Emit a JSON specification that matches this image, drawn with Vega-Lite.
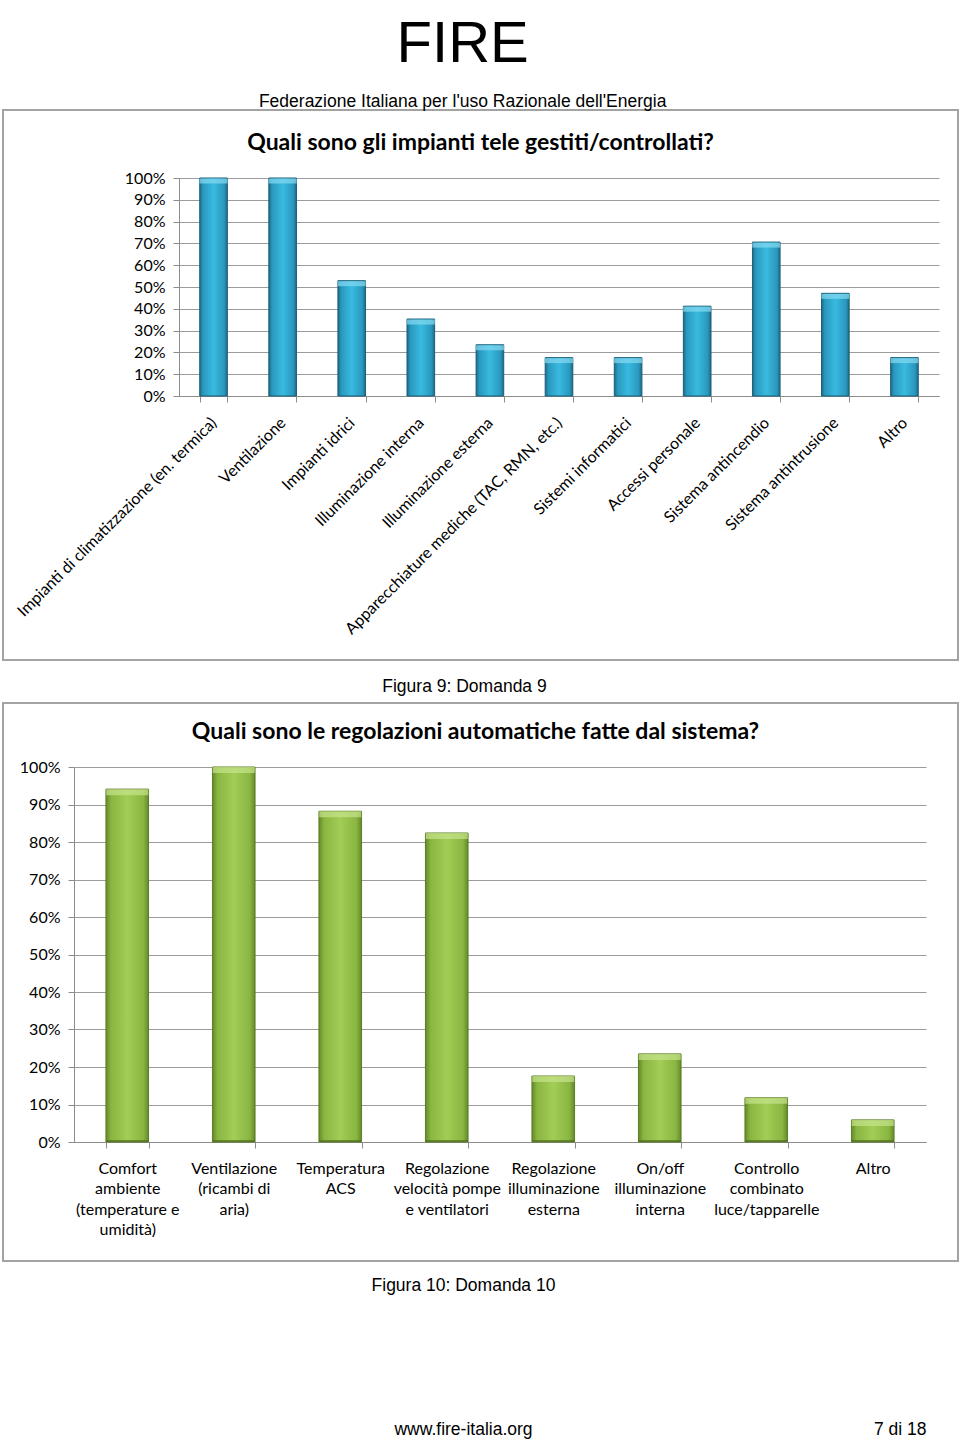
{
  "$schema": "https://vega.github.io/schema/vega-lite/v6.json",
  "background": "white",
  "padding": {"left": -4, "top": 15, "right": 2, "bottom": 0},
  "title": {
    "text": "FIRE",
    "subtitle": "Federazione Italiana per l'uso Razionale dell'Energia",
    "anchor": "middle",
    "font": "Liberation Sans",
    "fontSize": 58,
    "fontWeight": "normal",
    "color": "black",
    "subtitleFont": "Liberation Sans",
    "subtitleFontSize": 17.5,
    "subtitleColor": "black",
    "subtitlePadding": 19,
    "offset": -1,
    "dx": -15
  },
  "spacing": 6,
  "config": {
    "view": {"stroke": "#a3a3a3", "strokeWidth": 2},
    "axis": {
      "domainColor": "#8c8c8c",
      "tickColor": "#8c8c8c",
      "gridColor": "#9c9c9c",
      "gridWidth": 1.2,
      "labelColor": "black",
      "titleColor": "black"
    }
  },
  "vconcat": [
    {
      "width": 955,
      "height": 550,
      "data": {
        "values": [
          {"cat": "Impianti di climatizzazione (en. termica)", "v": 100},
          {"cat": "Ventilazione", "v": 100},
          {"cat": "Impianti idrici", "v": 52.9},
          {"cat": "Illuminazione interna", "v": 35.3},
          {"cat": "Illuminazione esterna", "v": 23.5},
          {"cat": "Apparecchiature mediche (TAC, RMN, etc.)", "v": 17.6},
          {"cat": "Sistemi informatici", "v": 17.6},
          {"cat": "Accessi personale", "v": 41.2},
          {"cat": "Sistema antincendio", "v": 70.6},
          {"cat": "Sistema antintrusione", "v": 47.1},
          {"cat": "Altro", "v": 17.6}
        ]
      },
      "title": {
        "text": "Quali sono gli impianti tele gestiti/controllati?",
        "offset": -45,
        "anchor": "middle",
        "frame": "group",
        "font": "Lato",
        "fontSize": 23,
        "fontWeight": "bold",
        "color": "black"
      },
      "encoding": {
        "y": {
          "field": "v",
          "type": "quantitative",
          "scale": {"domain": [0, 100], "range": [286, 68], "nice": false, "zero": true},
          "axis": {
            "orient": "left",
            "offset": -176,
            "title": null,
            "values": [0, 10, 20, 30, 40, 50, 60, 70, 80, 90, 100],
            "labelExpr": "datum.value + '%'",
            "grid": true,
            "tickSize": 6,
            "labelPadding": 8,
            "labelFont": "Lato",
            "labelFontSize": 16
          }
        }
      },
      "layer": [
        {
          "mark": {
            "type": "bar",
            "fill": {
              "gradient": "linear", "x1": 0, "y1": 0, "x2": 1, "y2": 0,
              "stops": [
                {"offset": 0, "color": "#1d6a86"},
                {"offset": 0.12, "color": "#2a98be"},
                {"offset": 0.5, "color": "#39bae0"},
                {"offset": 0.88, "color": "#2a98be"},
                {"offset": 1, "color": "#1d6a86"}
              ]
            }
          },
          "encoding": {
            "x": {
              "field": "cat",
              "type": "nominal",
              "sort": null,
              "scale": {"range": [176, 936], "paddingInner": 0.6, "paddingOuter": 0.3},
              "axis": {
                "orient": "bottom",
                "offset": -264,
                "title": null,
                "labelAngle": -45,
                "labelAlign": "right",
                "labelBaseline": "middle",
                "labelPadding": 18,
                "tickSize": 6,
                "tickBand": "extent",
                "labelFont": "Lato",
                "labelFontSize": 16,
                "labelLimit": 500,
                "labelOverlap": false
              }
            }
          }
        },
        {
          "mark": {"type": "bar", "fillOpacity": 0, "stroke": "#1b5f78", "strokeWidth": 1},
          "encoding": {
            "x": {
              "field": "cat",
              "type": "nominal",
              "sort": null,
              "axis": {
                "orient": "bottom",
                "offset": 0,
                "labels": false,
                "ticks": false,
                "domain": false,
                "title": "Figura 9: Domanda 9",
                "titleFont": "Liberation Sans",
                "titleFontSize": 17.5,
                "titleFontWeight": "normal",
                "titlePadding": 17,
                "titleX": 461
              }
            }
          }
        },
        {
          "mark": {"type": "tick", "color": "#86dcf2", "thickness": 5, "size": 28, "yOffset": 3},
          "encoding": {
            "x": {"field": "cat", "type": "nominal", "sort": null, "axis": null}
          }
        }
      ],
      "resolve": {"axis": {"x": "independent"}}
    },
    {
      "width": 955,
      "height": 558,
      "data": {
        "values": [
          {"cat": "Comfort\nambiente\n(temperature e\numidità)", "v": 94.1},
          {"cat": "Ventilazione\n(ricambi di\naria)", "v": 100},
          {"cat": "Temperatura\nACS", "v": 88.2},
          {"cat": "Regolazione\nvelocità pompe\ne ventilatori", "v": 82.4},
          {"cat": "Regolazione\nilluminazione\nesterna", "v": 17.6},
          {"cat": "On/off\nilluminazione\ninterna", "v": 23.5},
          {"cat": "Controllo\ncombinato\nluce/tapparelle", "v": 11.8},
          {"cat": "Altro", "v": 5.9}
        ]
      },
      "title": {
        "text": "Quali sono le regolazioni automatiche fatte dal sistema?",
        "offset": -41,
        "anchor": "middle",
        "frame": "group",
        "font": "Lato",
        "fontSize": 23,
        "fontWeight": "bold",
        "color": "black",
        "dx": -5
      },
      "encoding": {
        "y": {
          "field": "v",
          "type": "quantitative",
          "scale": {"domain": [0, 100], "range": [439, 64], "nice": false, "zero": true},
          "axis": {
            "orient": "left",
            "offset": -71,
            "title": null,
            "values": [0, 10, 20, 30, 40, 50, 60, 70, 80, 90, 100],
            "labelExpr": "datum.value + '%'",
            "grid": true,
            "tickSize": 6,
            "labelPadding": 8,
            "labelFont": "Lato",
            "labelFontSize": 16
          }
        }
      },
      "layer": [
        {
          "mark": {
            "type": "bar",
            "fill": {
              "gradient": "linear", "x1": 0, "y1": 0, "x2": 1, "y2": 0,
              "stops": [
                {"offset": 0, "color": "#658a2a"},
                {"offset": 0.12, "color": "#89b541"},
                {"offset": 0.5, "color": "#a2cd56"},
                {"offset": 0.88, "color": "#89b541"},
                {"offset": 1, "color": "#658a2a"}
              ]
            }
          },
          "encoding": {
            "x": {
              "field": "cat",
              "type": "nominal",
              "sort": null,
              "scale": {"range": [71, 923], "paddingInner": 0.6, "paddingOuter": 0.3},
              "axis": {
                "orient": "bottom",
                "offset": -119,
                "title": null,
                "labelAngle": 0,
                "labelAlign": "center",
                "labelBaseline": "top",
                "labelExpr": "split(datum.label, '\\n')",
                "labelLineHeight": 20.5,
                "labelPadding": 12,
                "tickSize": 6,
                "tickBand": "extent",
                "labelFont": "Lato",
                "labelFontSize": 16,
                "labelLimit": 500,
                "labelOverlap": false
              }
            }
          }
        },
        {
          "mark": {"type": "bar", "fillOpacity": 0, "stroke": "#5a7d25", "strokeWidth": 1},
          "encoding": {
            "x": {
              "field": "cat",
              "type": "nominal",
              "sort": null,
              "axis": {
                "orient": "bottom",
                "offset": 0,
                "labels": false,
                "ticks": false,
                "domain": false,
                "title": "Figura 10: Domanda 10",
                "titleFont": "Liberation Sans",
                "titleFontSize": 17.5,
                "titleFontWeight": "normal",
                "titlePadding": 15,
                "titleX": 460
              }
            }
          }
        },
        {
          "mark": {"type": "tick", "color": "#c8e48c", "thickness": 6, "size": 42, "yOffset": 3},
          "encoding": {
            "x": {
              "field": "cat",
              "type": "nominal",
              "sort": null,
              "axis": {
                "orient": "bottom",
                "offset": 0,
                "labels": false,
                "ticks": false,
                "domain": false,
                "title": "www.fire-italia.org",
                "titleFont": "Liberation Sans",
                "titleFontSize": 17.5,
                "titleFontWeight": "normal",
                "titlePadding": 159,
                "titleX": 460
              }
            }
          }
        },
        {
          "mark": {"type": "tick", "color": "#4f6f1f", "thickness": 2, "size": 42, "yOffset": -1},
          "encoding": {
            "y": {"datum": 0, "type": "quantitative"},
            "x": {
              "field": "cat",
              "type": "nominal",
              "sort": null,
              "axis": {
                "orient": "bottom",
                "offset": 0,
                "labels": false,
                "ticks": false,
                "domain": false,
                "title": "7 di 18",
                "titleFont": "Liberation Sans",
                "titleFontSize": 17.5,
                "titleFontWeight": "normal",
                "titlePadding": 159,
                "titleAnchor": "end"
              }
            }
          }
        }
      ],
      "resolve": {"axis": {"x": "independent"}}
    }
  ]
}
